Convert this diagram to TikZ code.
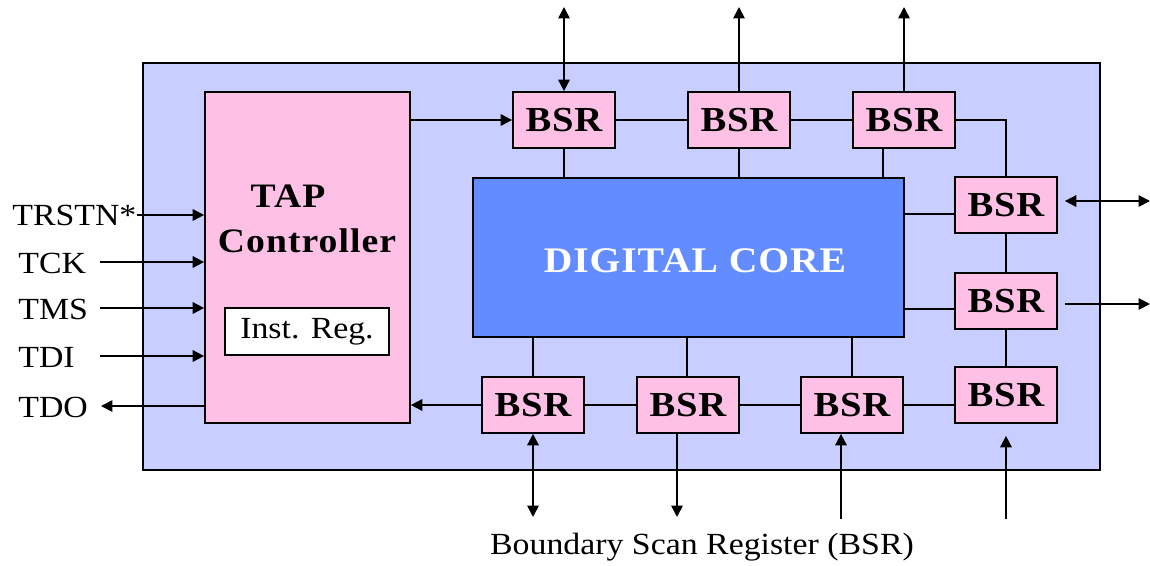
\documentclass[tikz,border=0pt]{standalone}
\usepackage{fontspec}
\setmainfont{Liberation Serif}[FakeStretch=1.1]
\newfontfamily\bsrf{Liberation Serif Bold}[FakeStretch=1.1, LetterSpace=2]
\newfontfamily\tapf{Liberation Serif Bold}[FakeStretch=1.1, LetterSpace=3]
\newfontfamily\coref{Liberation Serif Bold}[FakeStretch=1.1, LetterSpace=2.5]
\usetikzlibrary{arrows.meta}
\definecolor{lav}{RGB}{200,206,255}
\definecolor{pinkc}{RGB}{255,192,230}
\definecolor{corec}{RGB}{99,140,255}
\tikzset{
  ln/.style={line width=1pt, draw=black},
  arr/.style={ln, -{Triangle[length=6.5pt,width=6.5pt]}},
  arrb/.style={ln, {Triangle[length=6.5pt,width=6.5pt]}-{Triangle[length=6.5pt,width=6.5pt]}},
  box/.style={draw=black, line width=1pt, inner sep=0pt},
  bsrbox/.style={box, fill=pinkc, minimum width=2.04cm, minimum height=1.12cm,
     font=\bsrf\fontsize{20}{22}\selectfont},
  lbl/.style={inner sep=0pt, anchor=west, font=\fontsize{17.5}{20}\selectfont},
}
\begin{document}
\begin{tikzpicture}[x=0.02cm,y=-0.02cm]
\useasboundingbox (0,0) rectangle (1150,565);
% chip
\node[box, fill=lav, minimum width=19.14cm, minimum height=8.14cm] (chip) at (621.5,266.5) {};
% TAP controller
\node[box, fill=pinkc, minimum width=4.1cm, minimum height=6.62cm] (tap) at (307.5,257.5) {};
\node[inner sep=0pt, font=\tapf\fontsize{19.5}{22}\selectfont] (taptxt) at (288,196) {TAP};
\node[inner sep=0pt, font=\tapf\fontsize{19.5}{22}\selectfont] (ctltxt) at (307,241) {Controller};
\node[box, fill=white, minimum width=3.28cm, minimum height=0.94cm, font=\fontsize{17.5}{20}\selectfont] (ir) at (307,331.5) {Inst. Reg.};
% core
\node[box, fill=corec, minimum width=8.62cm, minimum height=3.18cm, text=white,
      font=\coref\fontsize{20.5}{24}\selectfont] (core) at (688.5,257.5) {};
\node[inner sep=0pt, text=white, font=\coref\fontsize{20.5}{24}\selectfont] (coretxt) at (695,261) {DIGITAL CORE};
% BSRs
\node[bsrbox] (t1) at (564,120) {BSR};
\node[bsrbox] (t2) at (739,120) {BSR};
\node[bsrbox] (t3) at (904,120) {BSR};
\node[bsrbox] (r1) at (1006,205) {BSR};
\node[bsrbox] (r2) at (1006,301) {BSR};
\node[bsrbox] (r3) at (1006,395) {BSR};
\node[bsrbox] (b1) at (533,405) {BSR};
\node[bsrbox] (b2) at (688,405) {BSR};
\node[bsrbox] (b3) at (852,405) {BSR};
% labels
\node[lbl] (trstn) at (12,215) {TRSTN*};
\node[lbl] (tck) at (18,263) {TCK};
\node[lbl] (tms) at (18,309) {TMS};
\node[lbl] (tdi) at (18,357) {TDI};
\node[lbl] (tdo) at (18,407) {TDO};
\node[inner sep=0pt, font=\fontsize{17.5}{20}\selectfont] (cap) at (702,547) {Boundary Scan Register (BSR)};
% free ends
\coordinate (tckS) at (100,262);
\coordinate (tmsS) at (100,308);
\coordinate (tdiS) at (100,356);
\coordinate (tdoE) at (101,406);
\coordinate (t1o) at (564,7);
\coordinate (t2o) at (739,7);
\coordinate (t3o) at (904,7);
\coordinate (r1o) at (1150,201);
\coordinate (r2o) at (1150,304);
\coordinate (b1o) at (533,517);
\coordinate (b2o) at (677,517);
\coordinate (b3o) at (841,519);
\coordinate (r3o) at (1006,519);
% TAP inputs / outputs
\draw[arr] (trstn.east) -- (trstn.east -| tap.west);
\draw[arr] (tckS) -- (tckS -| tap.west);
\draw[arr] (tmsS) -- (tmsS -| tap.west);
\draw[arr] (tdiS) -- (tdiS -| tap.west);
\draw[arr] (tdoE -| tap.west) -- (tdoE);
\draw[arr] (tap.east |- t1.west) -- (t1.west);
% top chain
\draw[ln] (t1.east) -- (t2.west);
\draw[ln] (t2.east) -- (t3.west);
\draw[ln] (t3.east) -| (r1.north);
\draw[arrb] (t1.north) -- (t1o);
\draw[arr] (t2.north) -- (t2o);
\draw[arr] (t3.north) -- (t3o);
\draw[ln] (t1.south) -- (t1.south |- core.north);
\draw[ln] (t2.south) -- (t2.south |- core.north);
\draw[ln] ([xshift=-0.42cm]t3.south) -- ([xshift=-0.42cm]t3.south |- core.north);
% right chain
\draw[ln] ([yshift=-0.18cm]r1.west) -- ([yshift=-0.18cm]r1.west -| core.east);
\draw[ln] ([yshift=-0.16cm]r2.west) -- ([yshift=-0.16cm]r2.west -| core.east);
\draw[arrb, shorten <=0.14cm] (r1.east |- r1o) -- (r1o);
\draw[arr, shorten <=0.14cm] (r2.east |- r2o) -- (r2o);
\draw[ln] (r1.south) -- (r2.north);
\draw[ln] (r2.south) -- (r3.north);
% bottom chain
\draw[arr] (b1.west) -- (b1.west -| tap.east);
\draw[ln] (b1.east) -- (b2.west);
\draw[ln] (b2.east) -- (b3.west);
\draw[ln] (b3.east) -- (b3.east -| r3.west);
\draw[ln] (b1.north) -- (b1.north |- core.south);
\draw[ln] ([xshift=-0.02cm]b2.north) -- ([xshift=-0.02cm]b2.north |- core.south);
\draw[ln] (b3.north) -- (b3.north |- core.south);
\draw[arrb] (b1.south) -- (b1o);
\draw[arr] (b2o |- b2.south) -- (b2o);
\draw[arr] (b3o) -- (b3o |- b3.south);
\draw[arr, shorten >=0.24cm] (r3o) -- (r3o |- r3.south);
\end{tikzpicture}
\end{document}
